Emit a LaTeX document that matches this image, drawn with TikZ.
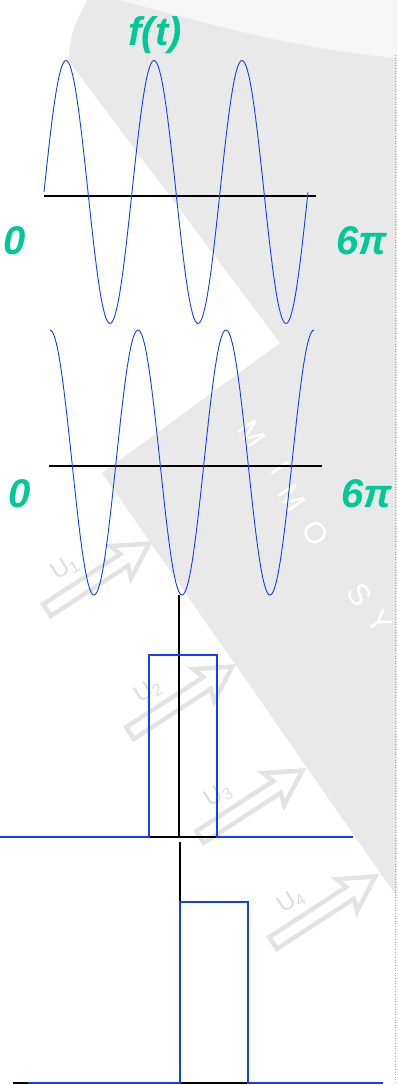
\documentclass[tikz,border=0pt]{standalone}
\usepackage{fontspec}
\setmainfont{Liberation Sans}
\usepackage{tikz}
\usetikzlibrary{calc}
\usepackage{xcolor}

\definecolor{sigblue}{RGB}{20,60,255}
\definecolor{labgreen}{RGB}{0,200,150}
\definecolor{wmgray}{RGB}{233,233,233}

\begin{document}
\begin{tikzpicture}[
  x=1pt, y=-1pt,
  axis/.style={draw=black, line width=1.5pt},
  curve/.style={draw=sigblue, line width=0.9pt},
  pulse/.style={draw=sigblue, line width=1.6pt},
  lab/.style={text=labgreen, inner sep=0pt,
              font=\fontsize{40}{40}\selectfont\bfseries\itshape},
  wmark/.style={fill=wmgray, draw=none},
  wmarrow/.style={draw=black!11, line width=4.5pt, line join=miter},
  wmtext/.style={text=black!13, inner sep=0pt, font=\fontsize{24}{24}\selectfont},
  wmletter/.style={text=white, inner sep=0pt, rotate=-55,
                   font=\fontsize{30}{30}\selectfont}
]
\useasboundingbox (0,0) rectangle (397,1085);

%% Background watermark
\fill[wmark] (87,0) -- (397,0) -- (397,897) -- (102,473) -- (280,343)
    -- (68,60) .. controls (72,30) .. (87,0) -- cycle;
\fill[white, opacity=0.6] (120,0) -- (397,0) -- (397,58)
    .. controls (300,50) and (200,22) .. (120,0) -- cycle;
\draw[black!35, dotted, line width=0.6pt] (395.5,55) -- (395.5,1085);

\foreach \ax/\ay/\k in {47/610/1, 130/733/2, 200/837/3, 273/943/4}{
  \begin{scope}[shift={(\ax,\ay)}, rotate=33]
    \draw[wmarrow] (0,-7) -- (92,-7) -- (88,-19) -- (122,0)
        -- (88,19) -- (92,7) -- (0,7) -- cycle;
  \end{scope}
  \node[wmtext, rotate=33] (u\k) at ($(\ax,\ay)+(18,-42)$) {U\textsubscript{\k}};
}
\foreach \l/\lx/\ly in {M/252/434, I/280/468, M/292/498, O/316/533, S/360/595, Y/380/622}
  \node[wmletter] (wm\lx) at (\lx,\ly) {\l};

%% Top signal: sine over 0..6pi
\coordinate (axAl) at (44,196);
\coordinate (axAr) at (316,196);
\draw[axis] (axAl) -- (axAr);
\draw[curve] plot[domain=0:18.8496, samples=240, smooth]
    ({44+\x*14.0056}, {192-131.5*sin(\x r)});
\node[lab] (ft)    at (155,35)  {f(t)};
\node[lab] (zeroA) at (15,241)  {0};
\node[lab] (sixA)  at (362,241) {6π};

%% Second signal: cosine over 0..6pi
\coordinate (axBl) at (49,466);
\coordinate (axBr) at (322,466);
\draw[axis] (axBl) -- (axBr);
\draw[curve] plot[domain=0:18.8496, samples=240, smooth]
    ({50+\x*14.0056}, {462.5-132.5*cos(\x r)});
\node[lab] (zeroB) at (20,494)  {0};
\node[lab] (sixB)  at (367,494) {6π};

%% First pulse
\coordinate (vA) at (179,595);
\coordinate (oA) at (179,837);
\draw[axis] (vA) -- (oA);
\draw[axis] (0,837) -- (353,837);
\draw[pulse] (0,837) -- (149,837) -- (149,655) -- (217,655) -- (217,837) -- (353,837);

%% Second pulse (shifted)
\coordinate (vB) at (180,842);
\coordinate (oB) at (180,1083);
\draw[axis] (vB) -- (oB);
\draw[axis] (13,1083) -- (383,1083);
\draw[pulse] (28,1083) -- (180,1083) -- (180,902) -- (248,902) -- (248,1083) -- (383,1083);

\end{tikzpicture}
\end{document}
